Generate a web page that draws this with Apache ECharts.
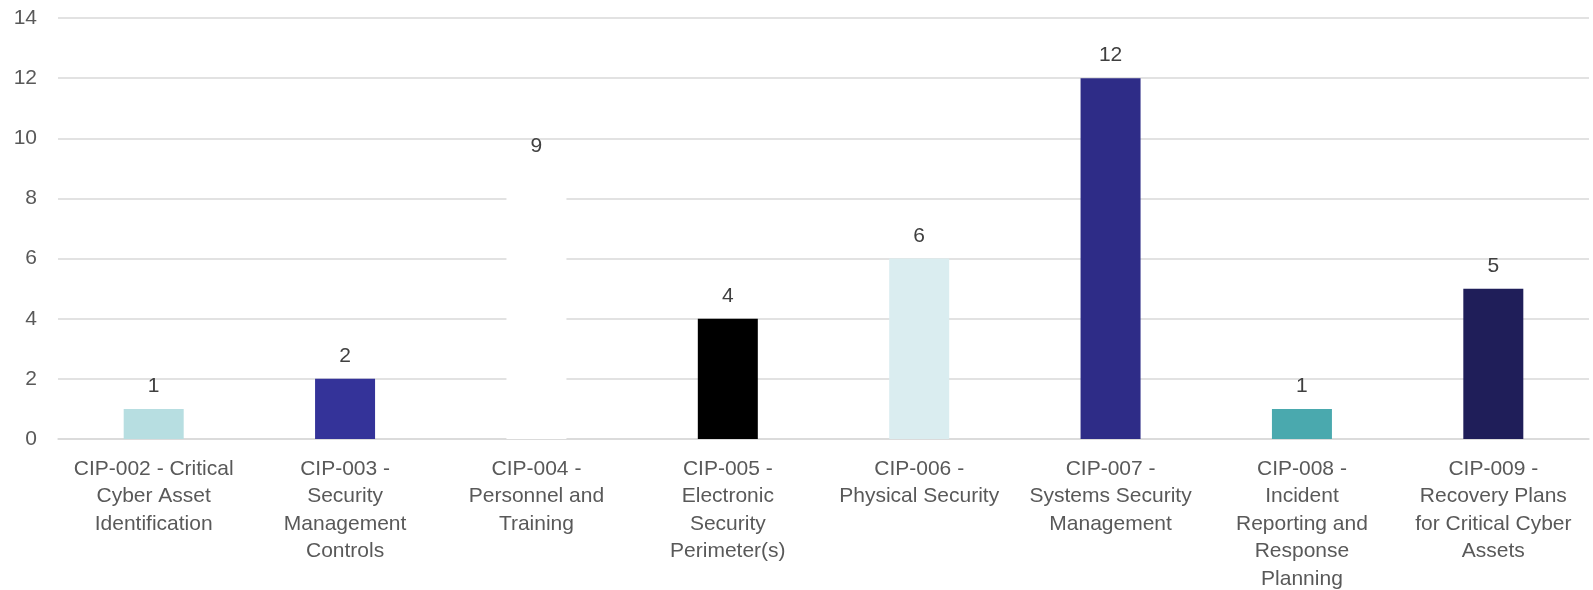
<!DOCTYPE html>
<html>
<head>
<meta charset="utf-8">
<script src="https://cdn.jsdelivr.net/npm/echarts@6/dist/echarts.min.js"></script>
<style>
html,body{margin:0;padding:0;background:#fff;}
#chart{width:1593px;height:590px;}
</style>
</head>
<body>
<div id="chart"></div>
<script>
var categories = [
	'CIP-002 - Critical\nCyber Asset\nIdentification',
	'CIP-003 -\nSecurity\nManagement\nControls',
	'CIP-004 -\nPersonnel and\nTraining',
	'CIP-005 -\nElectronic\nSecurity\nPerimeter(s)',
	'CIP-006 -\nPhysical Security',
	'CIP-007 -\nSystems Security\nManagement',
	'CIP-008 -\nIncident\nReporting and\nResponse\nPlanning',
	'CIP-009 -\nRecovery Plans\nfor Critical Cyber\nAssets'
];
var counts = [1, 2, 9, 4, 6, 12, 1, 5];
var barColors = ['#B7DEE1', '#343399', '#FFFFFF', '#000000', '#DAEDF0', '#2E2C87', '#4AA9AE', '#1F1E59'];

var chart = echarts.init(document.getElementById('chart'));
var seriesData = [];
for (var i = 0; i < counts.length; i++) {
	seriesData.push({value: counts[i], itemStyle: {color: barColors[i]}});
}
chart.setOption({
	animation: false,
	backgroundColor: '#fff',
	grid: {left: 58, right: 4, top: 18, bottom: 151, containLabel: false, outerBoundsMode: 'none'},
	xAxis: {
		type: 'category',
		data: categories,
		axisLine: {lineStyle: {color: '#D9D9D9', width: 1.5}},
		axisTick: {show: false},
		axisLabel: {
			interval: 0,
			color: '#595959',
			fontFamily: 'Liberation Sans',
			fontSize: 21,
			lineHeight: 27.5,
			margin: 16
		}
	},
	yAxis: {
		type: 'value',
		min: 0,
		max: 14,
		interval: 2,
		axisLine: {show: false},
		axisTick: {show: false},
		splitLine: {lineStyle: {color: '#D9D9D9', width: 1.5}},
		axisLabel: {
			color: '#595959',
			fontFamily: 'Liberation Sans',
			fontSize: 21,
			margin: 21
		}
	},
	series: [{
		type: 'bar',
		barWidth: 60,
		data: seriesData,
		label: {
			show: true,
			position: 'top',
			distance: 12,
			color: '#404040',
			fontFamily: 'Liberation Sans',
			fontSize: 21
		}
	}]
});
</script>
</body>
</html>
